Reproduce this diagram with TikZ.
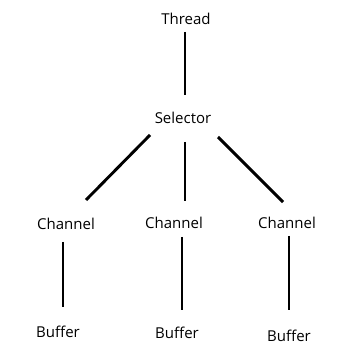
\documentclass[tikz,border=0pt]{standalone}
\usepackage{fontspec}
\setmainfont{Open Sans}
\begin{document}
\begin{tikzpicture}[x=1pt, y=1pt, auto,
    every node/.style={inner sep=0pt, font=\fontsize{15}{18}\selectfont},
    link/.style={line width=2.9pt},
    sublink/.style={line width=2.2pt}]
    \useasboundingbox (0,0) rectangle (349,355);
    \node (thread) at (186,336) {Thread};
    \node (sel) at (183,237) {Selector};
    \node (ch1) at (66,131) {Channel};
    \node (ch2) at (174,132) {Channel};
    \node (ch3) at (287,132) {Channel};
    \node (buf1) at (58,23) {Buffer};
    \node (buf2) at (177,22) {Buffer};
    \node (buf3) at (289,19) {Buffer};

    % thread -> selector
    \draw[link] ([shift={(-1,-13)}]thread.center) -- ([shift={(2,23)}]sel.center);
    % selector -> channels
    \draw[link] ([shift={(-33,-17)}]sel.center) -- ([shift={(20,24)}]ch1.center);
    \draw[link, line width=2.5pt] ([shift={(2,-24)}]sel.center) -- ([shift={(11,22)}]ch2.center);
    \draw[link] ([shift={(35,-19)}]sel.center) -- ([shift={(-4,21)}]ch3.center);
    % channels -> buffers
    \draw[sublink] ([shift={(-3,-18)}]ch1.center) -- ([shift={(5,25)}]buf1.center);
    \draw[sublink] ([shift={(8,-14)}]ch2.center) -- ([shift={(5,23)}]buf2.center);
    \draw[sublink] ([shift={(2,-13)}]ch3.center) -- ([shift={(0,26)}]buf3.center);
\end{tikzpicture}
\end{document}
